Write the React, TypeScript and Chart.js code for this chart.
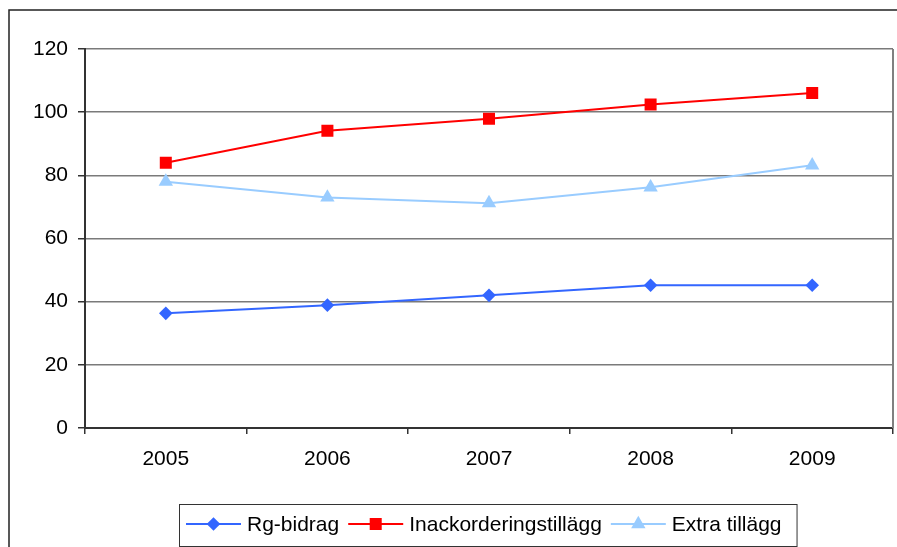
import React, { useEffect, useRef } from "react";
import { Chart, registerables } from "chart.js";

Chart.register(...registerables);

const years = ["2005", "2006", "2007", "2008", "2009"];
const rgBidrag = [36.3, 38.9, 42.0, 45.2, 45.2];
const inackordering = [84.0, 94.1, 97.9, 102.4, 106.1];
const extraTillagg = [78.0, 73.0, 71.2, 76.2, 83.2];
const yTicks = [0, 20, 40, 60, 80, 100, 120];

const FONT = "'Liberation Sans', Arial, sans-serif";

const seriesDefs = [
  { label: "Rg-bidrag", data: rgBidrag, color: "#3366FF", style: "rectRot", radius: 6.8 },
  { label: "Inackorderingstillägg", data: inackordering, color: "#FF0000", style: "rect", radius: 8.5 },
  { label: "Extra tillägg", data: extraTillagg, color: "#99CCFF", style: "triangle", radius: 8.3 },
];

function drawMarker(ctx: CanvasRenderingContext2D, style: string, r: number, x: number, y: number) {
  ctx.beginPath();
  if (style === "rectRot") {
    ctx.moveTo(x - r, y);
    ctx.lineTo(x, y - r);
    ctx.lineTo(x + r, y);
    ctx.lineTo(x, y + r);
  } else if (style === "rect") {
    const h = r * Math.SQRT1_2;
    ctx.rect(x - h, y - h, 2 * h, 2 * h);
  } else {
    const rad = -Math.PI / 2;
    ctx.moveTo(x + Math.cos(rad) * r, y + Math.sin(rad) * r);
    ctx.lineTo(x + Math.cos(rad + 2.0944) * r, y + Math.sin(rad + 2.0944) * r);
    ctx.lineTo(x + Math.cos(rad + 4.1888) * r, y + Math.sin(rad + 4.1888) * r);
  }
  ctx.closePath();
  ctx.fill();
}

const framePlugin = {
  id: "frame",
  beforeDraw(chart: any) {
    const ctx = chart.ctx;
    ctx.save();
    ctx.fillStyle = "#ffffff";
    ctx.fillRect(0, 0, chart.width, chart.height);
    ctx.strokeStyle = "#222222";
    ctx.lineWidth = 1.5;
    ctx.beginPath();
    ctx.moveTo(9, chart.height + 2);
    ctx.lineTo(9, 10);
    ctx.lineTo(chart.width + 2, 10);
    ctx.stroke();
    ctx.restore();
  },
  beforeDatasetsDraw(chart: any) {
    const { ctx, chartArea } = chart;
    ctx.save();
    ctx.strokeStyle = "#808080";
    ctx.lineWidth = 2;
    ctx.beginPath();
    ctx.moveTo(chartArea.right, chartArea.top);
    ctx.lineTo(chartArea.right, chartArea.bottom);
    ctx.stroke();
    ctx.restore();
  },
  afterDraw(chart: any) {
    const ctx = chart.ctx;
    ctx.save();
    const boxL = 179, boxT = 504, boxB = 546;
    const cy = 524;
    ctx.font = `21px ${FONT}`;
    let x = 186;
    const items: any[] = [];
    seriesDefs.forEach((s) => {
      const lineStart = x;
      const lineEnd = x + 55;
      const textX = lineEnd + 6;
      const w = ctx.measureText(s.label).width;
      items.push({ s, lineStart, lineEnd, textX });
      x = textX + w + 9;
    });
    const boxR = x + 6;
    ctx.strokeStyle = "#333333";
    ctx.lineWidth = 1;
    ctx.fillStyle = "#ffffff";
    ctx.fillRect(boxL, boxT, boxR - boxL, boxB - boxT);
    ctx.strokeRect(boxL + 0.5, boxT + 0.5, boxR - boxL, boxB - boxT);
    items.forEach(({ s, lineStart, lineEnd, textX }) => {
      ctx.strokeStyle = s.color;
      ctx.lineWidth = 2;
      ctx.beginPath();
      ctx.moveTo(lineStart, cy);
      ctx.lineTo(lineEnd, cy);
      ctx.stroke();
      ctx.fillStyle = s.color;
      drawMarker(ctx, s.style, s.radius, (lineStart + lineEnd) / 2, cy);
      ctx.fillStyle = "#000000";
      ctx.textBaseline = "middle";
      ctx.textAlign = "left";
      ctx.fillText(s.label, textX, cy + 1);
    });
    ctx.restore();
  },
};

export default function App() {
  const ref = useRef<HTMLCanvasElement>(null);
  useEffect(() => {
    if (!ref.current) return;
    const chart = new Chart(ref.current, {
      type: "line",
      data: {
        labels: years,
        datasets: seriesDefs.map((s) => ({
          label: s.label,
          data: s.data,
          borderColor: s.color,
          backgroundColor: s.color,
          pointBackgroundColor: s.color,
          pointBorderColor: s.color,
          pointBorderWidth: 0,
          pointStyle: s.style as any,
          pointRadius: s.radius,
          pointHoverRadius: s.radius,
          borderWidth: 2,
          tension: 0,
          fill: false,
        })),
      },
      options: {
        responsive: false,
        animation: false,
        events: [],
        layout: { autoPadding: false, padding: { top: 49, right: 4, left: 0, bottom: 0 } },
        plugins: {
          legend: { display: false },
          tooltip: { enabled: false },
          title: { display: false },
        },
        scales: {
          x: {
            type: "category",
            offset: true,
            grid: {
              offset: true,
              drawOnChartArea: false,
              drawTicks: true,
              tickLength: 6,
              color: "#333333",
              tickColor: "#333333",
              lineWidth: 1.5,
            },
            border: { display: true, color: "#333333", width: 2 },
            ticks: {
              color: "#000000",
              font: { family: FONT, size: 21 },
              padding: 13,
              maxRotation: 0,
            },
            afterFit(scale: any) {
              scale.height = 119;
              scale.paddingLeft = 0;
              scale.paddingRight = 0;
            },
          },
          y: {
            min: 0,
            max: 120,
            afterBuildTicks(scale: any) {
              scale.ticks = yTicks.map((v) => ({ value: v }));
            },
            grid: {
              color: "#7a7a7a",
              tickColor: "#333333",
              lineWidth: 1.5,
              tickLength: 7,
            },
            border: { display: true, color: "#333333", width: 2 },
            ticks: {
              color: "#000000",
              font: { family: FONT, size: 21 },
              padding: 10,
            },
            afterFit(scale: any) {
              scale.width = 85;
              scale.paddingTop = 0;
              scale.paddingBottom = 0;
            },
          },
        },
      },
      plugins: [framePlugin],
    });
    return () => chart.destroy();
  }, []);
  return (
    <div style={{ position: "fixed", left: 0, top: 0, width: 897, height: 547 }}>
      <canvas ref={ref} width={897} height={547} style={{ display: "block", width: 897, height: 547 }} />
    </div>
  );
}
